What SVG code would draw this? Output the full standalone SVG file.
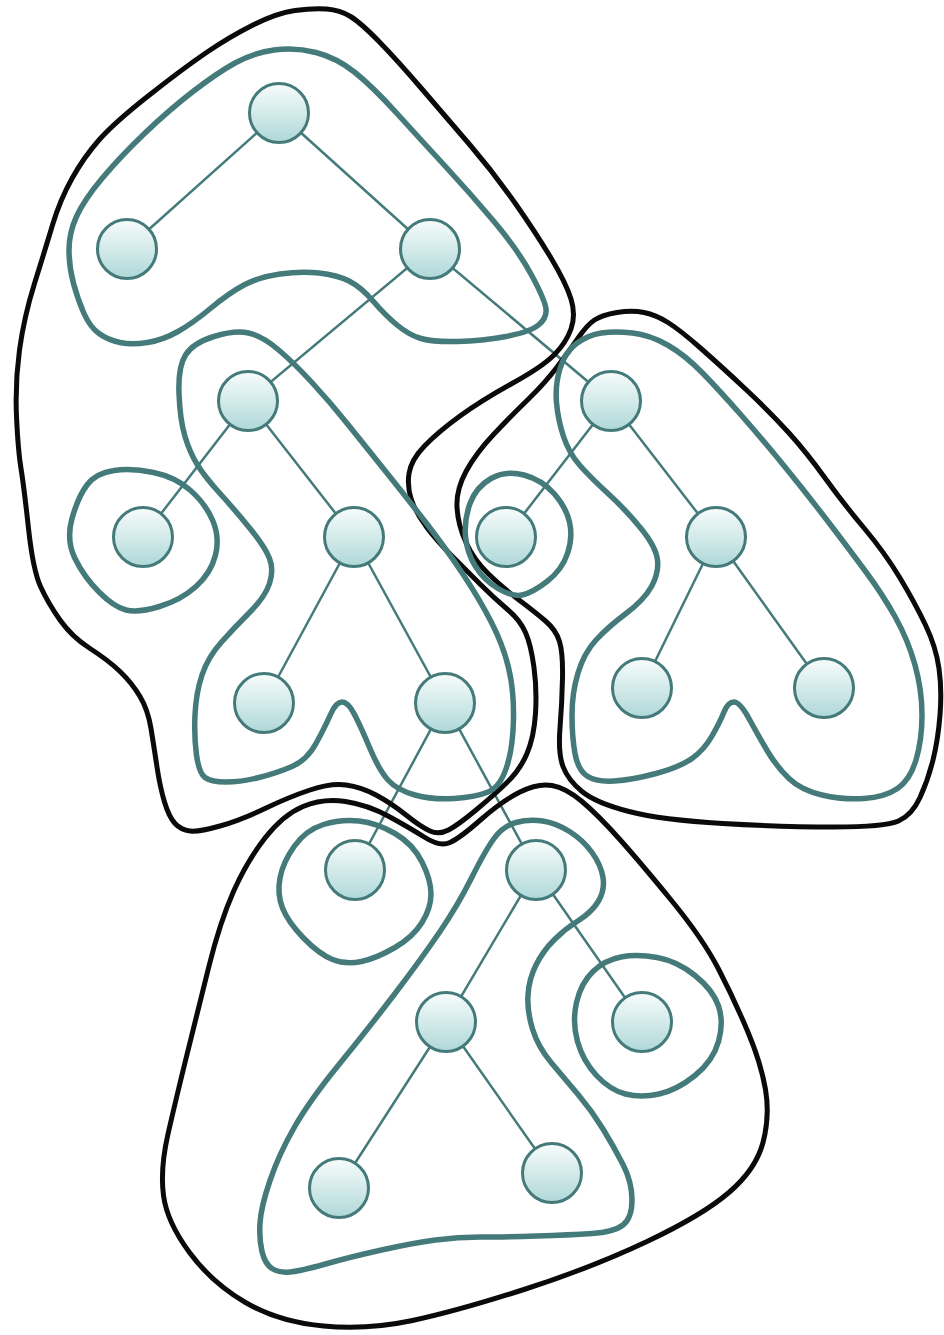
<svg xmlns="http://www.w3.org/2000/svg" width="944" height="1335" viewBox="0 0 944 1335">
<defs>
<linearGradient id="ng" x1="0" y1="0" x2="0" y2="1">
<stop offset="0" stop-color="#f8fcfc"/>
<stop offset="1" stop-color="#afd8d8"/>
</linearGradient>
<style>
.edge{stroke:#457a7a;stroke-width:2.5;fill:none}
.teal{stroke:#457a7a;stroke-width:5.5;fill:none;stroke-linejoin:round}
.blk{stroke:#0a0a0a;stroke-width:5;fill:none;stroke-linejoin:round}
.node circle{fill:url(#ng);stroke:#457a7a;stroke-width:3}
</style>
</defs>
<rect width="944" height="1335" fill="#ffffff"/>
<g id="connectors">
<line class="edge" x1="279" y1="113" x2="127" y2="249"/>
<line class="edge" x1="279" y1="113" x2="430" y2="249"/>
<line class="edge" x1="430" y1="249" x2="248" y2="401"/>
<line class="edge" x1="430" y1="249" x2="611" y2="401"/>
<line class="edge" x1="248" y1="401" x2="143" y2="537"/>
<line class="edge" x1="248" y1="401" x2="354" y2="537"/>
<line class="edge" x1="354" y1="537" x2="264" y2="703"/>
<line class="edge" x1="354" y1="537" x2="445" y2="703"/>
<line class="edge" x1="611" y1="401" x2="506" y2="537"/>
<line class="edge" x1="611" y1="401" x2="716" y2="537"/>
<line class="edge" x1="716" y1="537" x2="642" y2="688"/>
<line class="edge" x1="716" y1="537" x2="824" y2="688"/>
<line class="edge" x1="445" y1="703" x2="355" y2="870"/>
<line class="edge" x1="445" y1="703" x2="536" y2="870"/>
<line class="edge" x1="536" y1="870" x2="446" y2="1022"/>
<line class="edge" x1="536" y1="870" x2="642" y2="1022"/>
<line class="edge" x1="446" y1="1022" x2="339" y2="1188"/>
<line class="edge" x1="446" y1="1022" x2="552" y2="1173"/>
</g>
<g id="clusters">
<path id="cA" class="teal" d="M 274,50 Q 295,47 316,52.5 Q 337,58 355,72.5 Q 373,87 397,113.5 Q 421,140 445.5,166.5 Q 470,193 494,221.5 Q 518,250 531.5,275 Q 545,300 546,309 Q 547,318 538.5,325 Q 530,332 506,336.5 Q 482,341 457.5,341.5 Q 433,342 421,338.5 Q 409,335 397,325 Q 385,315 373,301 Q 361,287 349,281 Q 337,275 319,273 Q 301,271 280,274 Q 259,277 244,285 Q 229,293 211,308 Q 193,323 178,331.5 Q 163,340 147.5,342.5 Q 132,345 120,342.5 Q 108,340 99,333.5 Q 90,327 84,313.5 Q 78,300 73.5,283.5 Q 69,267 69,250 Q 69,233 76.5,216.5 Q 84,200 102,178.5 Q 120,157 144.5,133.5 Q 169,110 193,91.5 Q 217,73 235,63 Q 253,53 274,50 Z"/>
<path id="cBig" class="blk" d="M 295,10.5 Q 313,8 326.5,9 Q 340,10 350.5,16.5 Q 361,23 379,41.5 Q 397,60 421.5,88.5 Q 446,117 470,145 Q 494,173 515,203 Q 536,233 551,258 Q 566,283 571,299 Q 576,315 571,329 Q 566,343 554,355 Q 542,367 512,383.5 Q 482,400 460,416 Q 438,432 424.5,446 Q 411,460 409,473.5 Q 407,487 411.5,500 Q 416,513 426.5,527 Q 437,541 451.5,555.5 Q 466,570 480,584 Q 494,598 507,609 Q 520,620 525.5,632.5 Q 531,645 534,667.5 Q 537,690 535.5,713.5 Q 534,737 527,753.5 Q 520,770 507,782.5 Q 494,795 476,810 Q 458,825 448.5,830 Q 439,835 430,831 Q 421,827 406,815 Q 391,803 376,795 Q 361,787 346,785 Q 331,783 310,790 Q 289,797 265,808.5 Q 241,820 220,826 Q 199,832 190,831 Q 181,830 175,823.5 Q 169,817 164.5,802 Q 160,787 157,767 Q 154,747 151,728.5 Q 148,710 140,696.5 Q 132,683 120,671.5 Q 108,660 90,648.5 Q 72,637 60,620 Q 48,603 40.5,586.5 Q 33,570 28.5,528.5 Q 24,487 21,468.5 Q 18,450 16.5,416.5 Q 15,383 19.5,350 Q 24,317 34.5,283.5 Q 45,250 52.5,225 Q 60,200 72,178.5 Q 84,157 99,140 Q 114,123 147.5,96.5 Q 181,70 205,53.5 Q 229,37 253,25 Q 277,13 295,10.5 Z"/>
<path id="cB" class="teal" d="M 248.5,333 Q 262,336 277.5,349 Q 293,362 311.5,382 Q 330,402 348,424.5 Q 366,447 386.5,472.5 Q 407,498 427,524 Q 447,550 463.5,575 Q 480,600 491.5,622.5 Q 503,645 508.5,667.5 Q 514,690 513.5,719 Q 513,748 506.5,767.5 Q 500,787 488,792 Q 476,797 454.5,798.5 Q 433,800 415,795 Q 397,790 388,780 Q 379,770 370,748.5 Q 361,727 354.5,714.5 Q 348,702 342,702 Q 336,702 330.5,714.5 Q 325,727 316,743.5 Q 307,760 292,766.5 Q 277,773 259,777.5 Q 241,782 226,782 Q 211,782 205,777.5 Q 199,773 196.5,755 Q 194,737 195,715 Q 196,693 202,675 Q 208,657 221.5,642 Q 235,627 250,612 Q 265,597 269.5,583.5 Q 274,570 269.5,558.5 Q 265,547 250,528.5 Q 235,510 220,493.5 Q 205,477 197.5,465 Q 190,453 185,436.5 Q 180,420 179,393.5 Q 178,367 185.5,355 Q 193,343 214,336.5 Q 235,330 248.5,333 Z"/>
<path id="c6" class="teal" d="M 114,470.5 Q 132,468 153.5,472.5 Q 175,477 190,490 Q 205,503 212.5,520 Q 220,537 215.5,555 Q 211,573 196,586.5 Q 181,600 159.5,606.5 Q 138,613 126,610 Q 114,607 99,592 Q 84,577 75,558.5 Q 66,540 72,518.5 Q 78,497 87,485 Q 96,473 114,470.5 Z"/>
<path id="cRight" class="blk" d="M 617,312.5 Q 632,310 644,312.5 Q 656,315 668,322.5 Q 680,330 701,348.5 Q 722,367 746.5,390 Q 771,413 789,433 Q 807,453 825,478 Q 843,503 864,528 Q 885,553 900,578 Q 915,603 925.5,625 Q 936,647 939,668.5 Q 942,690 940,715 Q 938,740 933,760 Q 928,780 920,797.5 Q 912,815 898.5,821 Q 885,827 834,827 Q 783,827 722.5,823.5 Q 662,820 629,811.5 Q 596,803 582,791.5 Q 568,780 563,766.5 Q 558,753 560,728 Q 562,703 562.5,678 Q 563,653 559.5,641.5 Q 556,630 545.5,621 Q 535,612 519,600 Q 503,588 488.5,574 Q 474,560 466,542.5 Q 458,525 457,507.5 Q 456,490 466,471.5 Q 476,453 494,434 Q 512,415 528.5,399 Q 545,383 557.5,366.5 Q 570,350 578.5,337.5 Q 587,325 594.5,320 Q 602,315 617,312.5 Z"/>
<path id="cC" class="teal" d="M 601.5,333 Q 615,331 632.5,333 Q 650,335 667.5,345 Q 685,355 702.5,373 Q 720,391 741.5,415.5 Q 763,440 785,467 Q 807,494 828,521.5 Q 849,549 866,572 Q 883,595 895.5,617.5 Q 908,640 915,665 Q 922,690 922,715 Q 922,740 916,760 Q 910,780 897.5,788.5 Q 885,797 864,798.5 Q 843,800 822,795 Q 801,790 789,778.5 Q 777,767 768,752 Q 759,737 749.5,719.5 Q 740,702 734,702 Q 728,702 724,712 Q 720,722 712,736 Q 704,750 692,758.5 Q 680,767 656,773.5 Q 632,780 614,781 Q 596,782 587,776 Q 578,770 575,753.5 Q 572,737 572,715 Q 572,693 578,673 Q 584,653 596,640 Q 608,627 626,613.5 Q 644,600 651.5,586.5 Q 659,573 657.5,560 Q 656,547 641,528.5 Q 626,510 608,493.5 Q 590,477 579.5,465 Q 569,453 563.5,436.5 Q 558,420 556.5,402.5 Q 555,385 560,368.5 Q 565,352 576.5,343.5 Q 588,335 601.5,333 Z"/>
<path id="c8" class="teal" d="M 491,478.5 Q 506,470 524,475 Q 542,480 554,493.5 Q 566,507 569.5,522 Q 573,537 567.5,553.5 Q 562,570 547,581.5 Q 532,593 522,595 Q 512,597 498,588.5 Q 484,580 475.5,566.5 Q 467,553 465.5,536.5 Q 464,520 470,503.5 Q 476,487 491,478.5 Z"/>
<path id="cBottom" class="blk" d="M 303,806.5 Q 323,798 345.5,801.5 Q 368,805 389,816.5 Q 410,828 425,837.5 Q 440,847 450,842.5 Q 460,838 481,819.5 Q 502,801 520,792 Q 538,783 552,785.5 Q 566,788 582,801.5 Q 598,815 619,838.5 Q 640,862 671.5,900.5 Q 703,939 718.5,969 Q 734,999 747.5,1031 Q 761,1063 765.5,1089.5 Q 770,1116 763,1142.5 Q 756,1169 729.5,1192 Q 703,1215 647,1241.5 Q 591,1268 524,1289.5 Q 457,1311 412.5,1320.5 Q 368,1330 323.5,1326 Q 279,1322 245.5,1302.5 Q 212,1283 189.5,1252.5 Q 167,1222 163.5,1195.5 Q 160,1169 168,1134 Q 176,1099 187,1054.5 Q 198,1010 209,966 Q 220,922 233.5,891.5 Q 247,861 265,838 Q 283,815 303,806.5 Z"/>
<path id="c14" class="teal" d="M 323.5,824.5 Q 341,819 359,821 Q 377,823 395,833.5 Q 413,844 422,862 Q 431,880 431,894 Q 431,908 422,922.5 Q 413,937 395,947.5 Q 377,958 361.5,961.5 Q 346,965 332.5,959.5 Q 319,954 303.5,938 Q 288,922 282.5,908 Q 277,894 280,878 Q 283,862 294.5,846 Q 306,830 323.5,824.5 Z"/>
<path id="cD" class="teal" d="M 516,822.5 Q 529,819 542.5,821 Q 556,823 569.5,831.5 Q 583,840 592,852.5 Q 601,865 603,877.5 Q 605,890 598.5,901 Q 592,912 578.5,920.5 Q 565,929 554,940 Q 543,951 536,965 Q 529,979 528,995 Q 527,1011 532.5,1029 Q 538,1047 551.5,1063 Q 565,1079 578.5,1095 Q 592,1111 603,1129 Q 614,1147 623,1164.5 Q 632,1182 632,1200 Q 632,1218 623,1225 Q 614,1232 592,1233.5 Q 570,1235 536.5,1236 Q 503,1237 480.5,1237 Q 458,1237 435.5,1240 Q 413,1243 381.5,1250 Q 350,1257 325.5,1264 Q 301,1271 290,1272 Q 279,1273 272,1268.5 Q 265,1264 262,1251.5 Q 259,1239 260,1223 Q 261,1207 270,1180.5 Q 279,1154 294.5,1127 Q 310,1100 339,1064.5 Q 368,1029 395,993.5 Q 422,958 440,931.5 Q 458,905 471.5,878 Q 485,851 494,838.5 Q 503,826 516,822.5 Z"/>
<path id="c17" class="teal" d="M 621,957 Q 637,954 657,957.5 Q 677,961 695,975.5 Q 713,990 718.5,1006 Q 724,1022 718.5,1041.5 Q 713,1061 695,1075.5 Q 677,1090 659,1094 Q 641,1098 625.5,1094 Q 610,1090 596.5,1075.5 Q 583,1061 577.5,1041.5 Q 572,1022 576.5,1002.5 Q 581,983 593,971.5 Q 605,960 621,957 Z"/>
</g>
<g id="n1" class="node"><circle cx="279" cy="113" r="29.5"/></g>
<g id="n2" class="node"><circle cx="127" cy="249" r="29.5"/></g>
<g id="n3" class="node"><circle cx="430" cy="249" r="29.5"/></g>
<g id="n4" class="node"><circle cx="248" cy="401" r="29.5"/></g>
<g id="n5" class="node"><circle cx="611" cy="401" r="29.5"/></g>
<g id="n6" class="node"><circle cx="143" cy="537" r="29.5"/></g>
<g id="n7" class="node"><circle cx="354" cy="537" r="29.5"/></g>
<g id="n8" class="node"><circle cx="506" cy="537" r="29.5"/></g>
<g id="n9" class="node"><circle cx="716" cy="537" r="29.5"/></g>
<g id="n10" class="node"><circle cx="264" cy="703" r="29.5"/></g>
<g id="n11" class="node"><circle cx="445" cy="703" r="29.5"/></g>
<g id="n12" class="node"><circle cx="642" cy="688" r="29.5"/></g>
<g id="n13" class="node"><circle cx="824" cy="688" r="29.5"/></g>
<g id="n14" class="node"><circle cx="355" cy="870" r="29.5"/></g>
<g id="n15" class="node"><circle cx="536" cy="870" r="29.5"/></g>
<g id="n16" class="node"><circle cx="446" cy="1022" r="29.5"/></g>
<g id="n17" class="node"><circle cx="642" cy="1022" r="29.5"/></g>
<g id="n18" class="node"><circle cx="339" cy="1188" r="29.5"/></g>
<g id="n19" class="node"><circle cx="552" cy="1173" r="29.5"/></g>
</svg>
